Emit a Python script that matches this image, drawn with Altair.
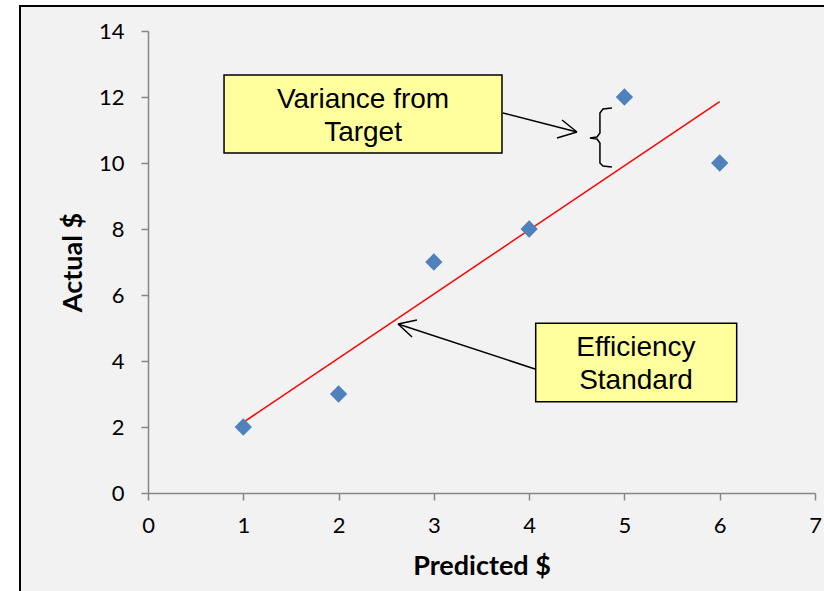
import altair as alt
import pandas as pd

# scatter data
predicted = [1, 2, 3, 4, 5, 6]
actual = [2, 3, 7, 8, 12, 10]

# annotation boxes (data coordinates)
box_labels = ["Variance from\nTarget", "Efficiency\nStandard"]
box_x1 = [0.798, 4.069]
box_x2 = [3.715, 6.178]
box_y1 = [10.303, 2.767]
box_y2 = [12.667, 5.142]
box_cx = [2.257, 5.121]
box_cy = [11.924, 4.379]

# arrow segments (shaft + two head strokes), data coordinates
seg_x1 = [3.725, 4.502, 4.502, 4.061, 2.624, 2.624]
seg_y1 = [11.515, 10.939, 10.939, 3.758, 5.121, 5.121]
seg_x2 = [4.502, 4.292, 4.345, 2.624, 2.823, 2.771]
seg_y2 = [10.939, 10.758, 11.303, 5.121, 5.242, 4.727]

# curly brace path
brace_x = [4.869, 4.775, 4.743, 4.743, 4.712, 4.638, 4.712, 4.743, 4.743, 4.775, 4.869]
brace_y = [11.667, 11.636, 11.515, 10.909, 10.788, 10.758, 10.727, 10.606, 10.0, 9.909, 9.879]

pts = pd.DataFrame({"x": predicted, "y": actual})
boxes = pd.DataFrame({"label": box_labels, "x1": box_x1, "x2": box_x2,
                      "y1": box_y1, "y2": box_y2, "cx": box_cx, "cy": box_cy})
segs = pd.DataFrame({"x1": seg_x1, "y1": seg_y1, "x2": seg_x2, "y2": seg_y2})
brace = pd.DataFrame({"x": brace_x, "y": brace_y, "o": list(range(len(brace_x)))})

xscale = alt.Scale(domain=[0, 7], nice=False, zero=False)
yscale = alt.Scale(domain=[0, 14], nice=False, zero=False)

xaxis = alt.Axis(title="Predicted $", values=list(range(0, 8)), format="d",
                 grid=False, tickSize=7, labelPadding=15, titlePadding=17,
                 labelFlush=False, labelOverlap=False, zindex=1)
yaxis = alt.Axis(title="Actual $", values=list(range(0, 15, 2)), format="d",
                 grid=False, tickSize=7, labelPadding=17, titlePadding=11,
                 labelFlush=False, labelOverlap=False, zindex=1)

frame = alt.Chart(pd.DataFrame({"a": [0]})).mark_rect(
    fill="#f2f2f2", stroke="black", strokeWidth=2
).encode(x=alt.value(-128), x2=alt.value(700), y=alt.value(-25), y2=alt.value(600))

scatter = alt.Chart(pts).mark_point(
    shape="diamond", filled=True, size=300, color="#4f81bd", opacity=1
).encode(x=alt.X("x:Q", scale=xscale, axis=xaxis),
         y=alt.Y("y:Q", scale=yscale, axis=yaxis))

reg = alt.Chart(pts).transform_regression("x", "y").mark_line(
    color="#ff0000", strokeWidth=1.5
).encode(x=alt.X("x:Q", scale=xscale), y=alt.Y("y:Q", scale=yscale))

rects = alt.Chart(boxes).mark_rect(
    fill="#ffff9e", stroke="black", strokeWidth=1.5
).encode(x=alt.X("x1:Q", scale=xscale), x2="x2:Q",
         y=alt.Y("y1:Q", scale=yscale), y2="y2:Q")

texts = alt.Chart(boxes).mark_text(
    font="Liberation Sans", fontSize=28, lineHeight=33, lineBreak="\n",
    align="center", baseline="middle", color="black"
).encode(x=alt.X("cx:Q", scale=xscale), y=alt.Y("cy:Q", scale=yscale), text="label:N")

arrows = alt.Chart(segs).mark_rule(color="black", strokeWidth=1.5).encode(
    x=alt.X("x1:Q", scale=xscale), y=alt.Y("y1:Q", scale=yscale), x2="x2:Q", y2="y2:Q")

brace_line = alt.Chart(brace).mark_line(color="black", strokeWidth=1.5).encode(
    x=alt.X("x:Q", scale=xscale), y=alt.Y("y:Q", scale=yscale), order="o:Q")

chart = alt.layer(frame, reg, scatter, arrows, brace_line, rects, texts).properties(
    width=667, height=462,
    autosize=alt.AutoSizeParams(type="none"),
    padding={"left": 148, "top": 31, "right": 9, "bottom": 98},
    background="white",
).configure_view(strokeWidth=0).configure_axis(
    domainColor="#868686", tickColor="#868686", domainWidth=1.5, tickWidth=1.5,
    labelFont="Lato", labelFontSize=22, labelColor="black",
    titleFont="Lato", titleFontSize=27, titleFontWeight="bold", titleColor="black",
)

chart.save("out.html", embed_options={"renderer": "svg", "actions": False})
